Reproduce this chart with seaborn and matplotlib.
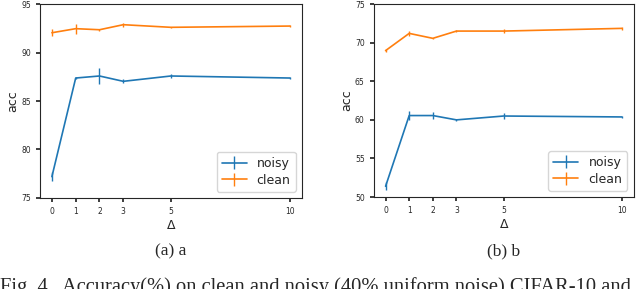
import matplotlib
matplotlib.use("Agg")
import matplotlib.pyplot as plt
from matplotlib.ticker import MultipleLocator
import seaborn as sns

# ─── Данные ─────────────────────────────────────────────────────────────────────
deltas = [0, 1, 2, 3, 5, 10]

# (a) CIFAR-10
a_noisy = [77.2, 87.37, 87.58, 87.03, 87.58, 87.37]
a_noisy_err = [0.5, 0.15, 0.8, 0.2, 0.25, 0.15]
a_clean = [92.04, 92.46, 92.35, 92.87, 92.6, 92.73]
a_clean_err = [0.35, 0.5, 0.1, 0.2, 0.05, 0.1]

# (b) CIFAR-100
b_noisy = [51.4, 60.56, 60.56, 60.0, 60.5, 60.38]
b_noisy_err = [0.5, 0.6, 0.4, 0.1, 0.4, 0.1]
b_clean = [68.97, 71.2, 70.56, 71.5, 71.5, 71.85]
b_clean_err = [0.15, 0.3, 0.1, 0.1, 0.3, 0.15]

panels = [
    ("(a) a", a_noisy, a_noisy_err, a_clean, a_clean_err, (75, 95)),
    ("(b) b", b_noisy, b_noisy_err, b_clean, b_clean_err, (50, 75)),
]
caption = "Fig. 4.  Accuracy(%) on clean and noisy (40% uniform noise) CIFAR-10 and"

# ─── Стиль ──────────────────────────────────────────────────────────────────────
sns.set_theme(style="ticks", rc={
    "xtick.labelsize": 5.5,
    "ytick.labelsize": 5.5,
    "axes.labelsize": 9,
    "legend.fontsize": 9,
    "xtick.major.size": 3,
    "ytick.major.size": 3,
    "axes.linewidth": 0.8,
})
plt.rcParams["font.family"] = ["DejaVu Sans"]
colors = sns.color_palette("tab10")

fig = plt.figure(figsize=(6.4, 2.89), dpi=100)
boxes = [[0.0625, 0.315, 0.409, 0.671], [0.584, 0.318, 0.406, 0.668]]

for box, (label, noisy, noisy_err, clean, clean_err, ylim) in zip(boxes, panels):
    ax = fig.add_axes(box)
    ax.errorbar(deltas, noisy, yerr=noisy_err, color=colors[0], lw=1.2,
                elinewidth=1.0, capsize=0, label="noisy")
    ax.errorbar(deltas, clean, yerr=clean_err, color=colors[1], lw=1.2,
                elinewidth=1.0, capsize=0, label="clean")
    ax.set_ylim(*ylim)
    ax.yaxis.set_major_locator(MultipleLocator(5))
    ax.set_xticks(deltas)
    ax.set_xlabel("Δ", labelpad=2)
    ax.set_ylabel("acc", labelpad=1.5)
    ax.legend(loc="lower right", handlelength=2.0, borderpad=0.4, labelspacing=0.3)
    cx = box[0] + box[2] / 2
    fig.text(cx, 1 - 251 / 289, label, ha="center", va="center",
             family="Liberation Serif", fontsize=12.5)

fig.text(0.0, 1 - 292 / 289, caption, ha="left", va="baseline",
         family="Liberation Serif", fontsize=14.8)

fig.savefig("out.png", dpi=100)
